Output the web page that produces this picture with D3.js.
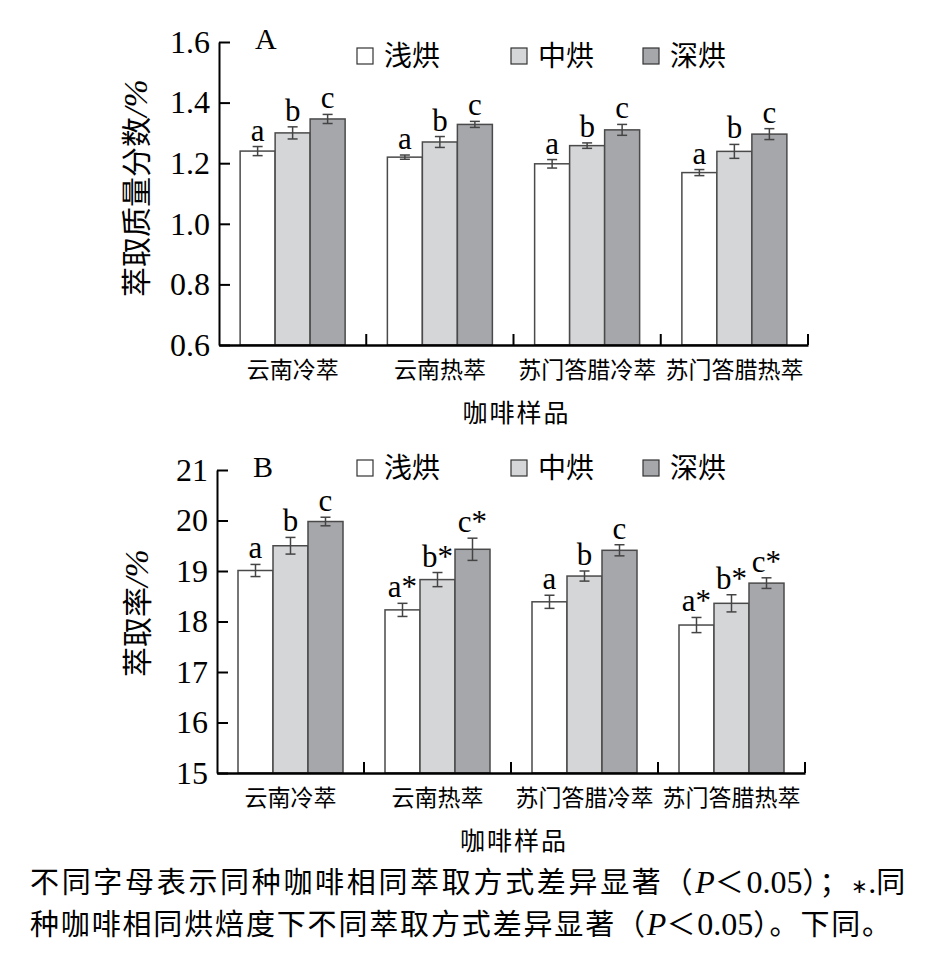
<!DOCTYPE html>
<html>
<head>
<meta charset="utf-8">
<script src="https://cdn.jsdelivr.net/npm/d3@7/dist/d3.min.js"></script>
<style>
  body { margin: 0; background: #fff; }
  svg { display: block; }
</style>
</head>
<body>
<svg width="930" height="957"></svg>
<script>
const categories = ["云南冷萃", "云南热萃", "苏门答腊冷萃", "苏门答腊热萃"];
const roasts = ["浅烘", "中烘", "深烘"];
const roastColors = ["#ffffff", "#d5d6d8", "#a6a7ab"];

// panel A: 萃取质量分数/%
const massLight = [1.240, 1.220, 1.198, 1.169];
const massMedium = [1.300, 1.270, 1.258, 1.239];
const massDark = [1.346, 1.328, 1.310, 1.296];
const massLightErr = [0.015, 0.007, 0.014, 0.010];
const massMediumErr = [0.020, 0.018, 0.009, 0.023];
const massDarkErr = [0.015, 0.010, 0.018, 0.018];
const massLetters = [["a", "b", "c"], ["a", "b", "c"], ["a", "b", "c"], ["a", "b", "c"]];
const massTicks = [0.6, 0.8, 1.0, 1.2, 1.4, 1.6];

// panel B: 萃取率/%
const rateLight = [19.01, 18.23, 18.39, 17.93];
const rateMedium = [19.50, 18.83, 18.90, 18.36];
const rateDark = [19.98, 19.43, 19.41, 18.76];
const rateLightErr = [0.12, 0.13, 0.13, 0.15];
const rateMediumErr = [0.165, 0.14, 0.10, 0.17];
const rateDarkErr = [0.085, 0.22, 0.11, 0.105];
const rateLetters = [["a", "b", "c"], ["a*", "b*", "c*"], ["a", "b", "c"], ["a*", "b*", "c*"]];
const rateTicks = [15, 16, 17, 18, 19, 20, 21];

const CJK = '"Noto Sans CJK SC", sans-serif';
const SERIF = '"Liberation Serif", "Times New Roman", serif';

const svg = d3.select("svg");

function drawPanel(p) {
  const g = svg.append("g");
  const x0 = d3.scaleBand().domain(categories).range([p.left, p.right]);
  const x1 = d3.scaleBand().domain(roasts)
    .range([x0.bandwidth() / 2 - 52.5, x0.bandwidth() / 2 + 52.5]);
  const y = d3.scaleLinear().domain(p.domain).range([p.bottom, p.top]);

  const rows = [];
  categories.forEach((c, i) => {
    roasts.forEach((r, j) => {
      rows.push({cat: c, roast: r, j: j, v: p.means[j][i], e: p.errs[j][i], label: p.letters[i][j]});
    });
  });

  // bars
  g.selectAll(".bar").data(rows).enter().append("rect")
    .attr("x", d => x0(d.cat) + x1(d.roast))
    .attr("y", d => y(d.v))
    .attr("width", x1.bandwidth())
    .attr("height", d => y(p.domain[0]) - y(d.v))
    .attr("fill", d => roastColors[d.j])
    .attr("stroke", "#4a4a4a")
    .attr("stroke-width", 1.5);

  // error bars
  const eb = g.selectAll(".err").data(rows).enter().append("g")
    .attr("stroke", "#444").attr("stroke-width", 1.5)
    .attr("transform", d => `translate(${x0(d.cat) + x1(d.roast) + x1.bandwidth() / 2},0)`);
  eb.append("line").attr("y1", d => y(d.v - d.e)).attr("y2", d => y(d.v + d.e));
  eb.append("line").attr("x1", -5).attr("x2", 5).attr("y1", d => y(d.v - d.e)).attr("y2", d => y(d.v - d.e));
  eb.append("line").attr("x1", -5).attr("x2", 5).attr("y1", d => y(d.v + d.e)).attr("y2", d => y(d.v + d.e));

  // significance letters
  g.selectAll(".sig").data(rows).enter().append("text")
    .style("font-family", SERIF)
    .attr("x", d => x0(d.cat) + x1(d.roast) + x1.bandwidth() / 2)
    .attr("y", d => y(d.v + d.e) - 6)
    .attr("text-anchor", "middle")
    .attr("font-size", 31)
    .text(d => d.label);

  // y axis
  const ya = g.append("g").attr("transform", `translate(${p.left},0)`)
    .call(d3.axisLeft(y).tickValues(p.ticks).tickSize(-11).tickSizeOuter(0)
      .tickPadding(9).tickFormat(p.fmt));
  ya.selectAll("text").style("font-family", SERIF).style("font-size", "32px").attr("fill", "#000");
  ya.selectAll("line, path").attr("stroke", "#000").attr("stroke-width", 2);

  // x axis
  const xa = g.append("g").attr("transform", `translate(0,${p.bottom})`)
    .call(d3.axisBottom(x0).tickSize(0).tickSizeOuter(0).tickPadding(17));
  xa.selectAll("text").style("font-family", CJK).style("font-size", "23px").attr("fill", "#000");
  xa.select("path").attr("stroke", "#000").attr("stroke-width", 2.5);
  g.selectAll(".sep").data(categories).enter().append("line")
    .attr("x1", d => x0(d) + x0.bandwidth()).attr("x2", d => x0(d) + x0.bandwidth())
    .attr("y1", p.bottom).attr("y2", p.bottom - 11)
    .attr("stroke", "#000").attr("stroke-width", 2);

  g.append("text").style("font-family", CJK)
    .attr("x", (p.left + p.right) / 2 + 3).attr("y", p.bottom + 77)
    .attr("text-anchor", "middle").attr("font-size", 25)
    .attr("letter-spacing", 2).text("咖啡样品");

  // y title
  const yt = g.append("text")
    .attr("transform", `translate(${p.titleX},${p.titleY}) rotate(-90)`)
    .attr("text-anchor", "middle").attr("font-size", 30);
  yt.append("tspan").style("font-family", CJK).text(p.title);
  yt.append("tspan").style("font-family", SERIF).style("font-style", "italic")
    .attr("font-size", 34).text("/%");

  // panel letter
  g.append("text").style("font-family", SERIF).attr("x", p.left + 36).attr("y", p.top + 7)
    .attr("font-size", 30).text(p.name);

  // legend
  const lg = g.selectAll(".leg").data(roasts).enter().append("g")
    .attr("transform", (d, i) => `translate(${[357, 511, 643][i]},${p.legendY})`);
  lg.append("rect").attr("x", 0).attr("y", -8).attr("width", 16).attr("height", 16)
    .attr("fill", (d, i) => roastColors[i]).attr("stroke", "#333").attr("stroke-width", 1.2);
  lg.append("text").style("font-family", CJK).attr("x", 27).attr("y", 0).attr("dy", "0.36em")
    .attr("font-size", 28).text(d => d);
}

drawPanel({
  name: "A", left: 219, right: 808, top: 42, bottom: 345, domain: [0.6, 1.6],
  ticks: massTicks, fmt: d3.format(".1f"),
  means: [massLight, massMedium, massDark], errs: [massLightErr, massMediumErr, massDarkErr],
  letters: massLetters, title: "萃取质量分数", titleX: 147, titleY: 188, legendY: 56
});

drawPanel({
  name: "B", left: 217, right: 805, top: 470, bottom: 773, domain: [15, 21],
  ticks: rateTicks, fmt: d3.format("d"),
  means: [rateLight, rateMedium, rateDark], errs: [rateLightErr, rateMediumErr, rateDarkErr],
  letters: rateLetters, title: "萃取率", titleX: 148, titleY: 613, legendY: 468
});

// footnote, CJK spacing stretched so each line ends where the original does
const notes = [
  {y: 893, width: 878, parts: [["cjk", "不同字母表示同种咖啡相同萃取方式差异显著（"], ["P", "P"], ["cjk", "＜"], ["num", "0.05"], ["cjk", "）；"], ["star", "∗"], ["num", "."], ["cjk", "同"]]},
  {y: 935, width: 863, parts: [["cjk", "种咖啡相同烘焙度下不同萃取方式差异显著（"], ["P", "P"], ["cjk", "＜"], ["num", "0.05"], ["cjk", "）。下同。"]]}
];
notes.forEach(n => {
  const t = svg.append("text").attr("x", 30).attr("y", n.y).attr("font-size", 29);
  let nCjk = 0;
  n.parts.forEach(pt => {
    const s = t.append("tspan").text(pt[1]);
    if (pt[0] === "cjk") {
      s.attr("class", "fn-cjk").style("font-family", CJK);
      nCjk += pt[1].length;
    } else {
      s.style("font-family", SERIF).attr("font-size", pt[0] === "star" ? 20 : 32);
      if (pt[0] === "P") s.style("font-style", "italic");
    }
  });
  const natural = t.node().getComputedTextLength();
  const ls = (n.width - natural) / nCjk;
  t.selectAll(".fn-cjk").attr("letter-spacing", ls);
});
</script>
</body>
</html>
